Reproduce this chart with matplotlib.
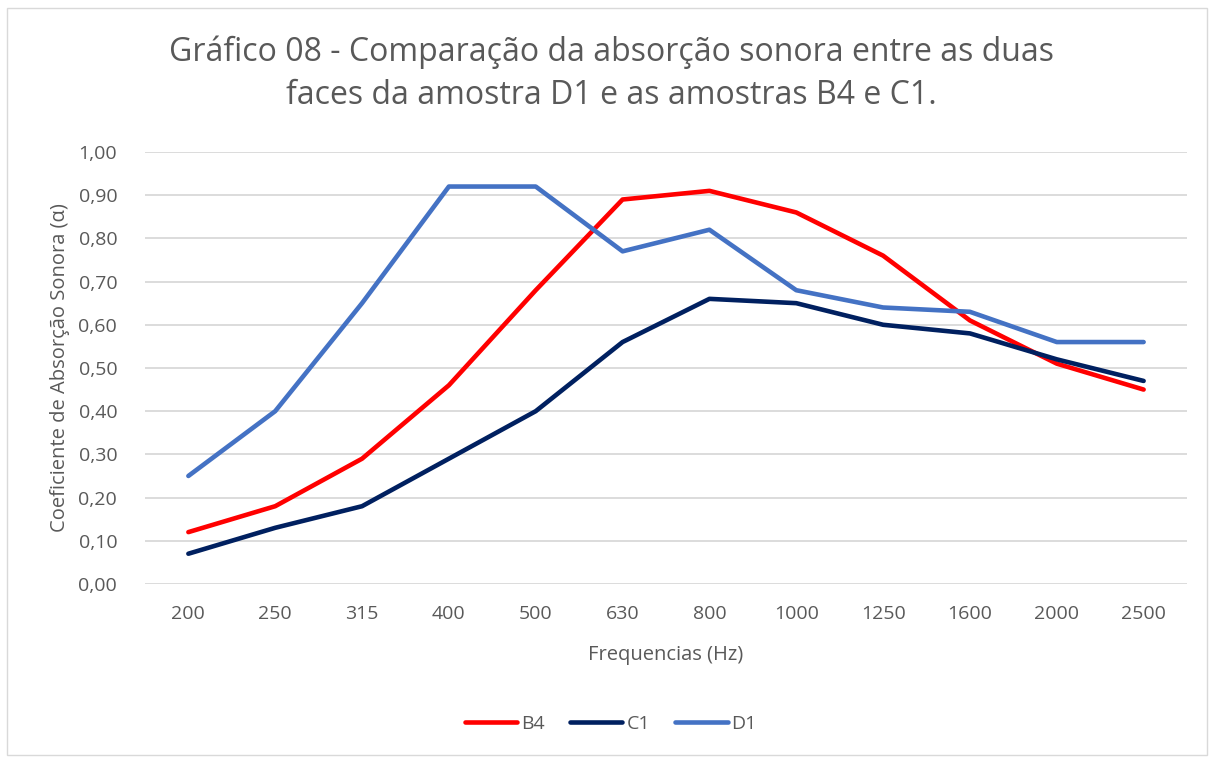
import matplotlib.pyplot as plt
import matplotlib.patches as mpatches

# Frequencies and absorption coefficients
frequencies = ["200", "250", "315", "400", "500", "630", "800", "1000", "1250", "1600", "2000", "2500"]
b4 = [0.12, 0.18, 0.29, 0.46, 0.68, 0.89, 0.91, 0.86, 0.76, 0.61, 0.51, 0.45]
c1 = [0.07, 0.13, 0.18, 0.29, 0.40, 0.56, 0.66, 0.65, 0.60, 0.58, 0.52, 0.47]
d1 = [0.25, 0.40, 0.65, 0.92, 0.92, 0.77, 0.82, 0.68, 0.64, 0.63, 0.56, 0.56]

text_color = "#595959"
plt.rcParams['font.family'] = ['Open Sans', 'DejaVu Sans']

fig = plt.figure(figsize=(12.14, 7.58), dpi=100)
ax = fig.add_axes([0.1194, 0.2296, 0.8584, 0.5699])

x = range(len(frequencies))
ax.plot(x, b4, color="#FF0000", lw=3.3, label="B4", solid_capstyle='round')
ax.plot(x, c1, color="#002060", lw=3.3, label="C1", solid_capstyle='round')
ax.plot(x, d1, color="#4472C4", lw=3.3, label="D1", solid_capstyle='round')

ax.set_xlim(-0.5, len(frequencies) - 0.5)
ax.set_ylim(0, 1.0)
ax.set_yticks([i / 10 for i in range(11)])
ax.set_yticklabels([f"{i / 10:.2f}".replace(".", ",") for i in range(11)])
ax.set_xticks(list(x))
ax.set_xticklabels(frequencies)
ax.tick_params(length=0, labelsize=14, labelcolor=text_color)
ax.tick_params(axis='x', pad=15)
ax.tick_params(axis='y', pad=20)
ax.grid(axis='y', color="#D9D9D9", lw=1.3)
ax.set_axisbelow(True)
for s in ax.spines.values():
    s.set_visible(False)

ax.set_xlabel("Frequencias (Hz)", fontsize=14.5, color=text_color, labelpad=16)
ax.set_ylabel("Coeficiente de Absorção Sonora (α)", fontsize=14.5, color=text_color, labelpad=6)

fig.text(0.504, 0.903, "Gráfico 08 - Comparação da absorção sonora entre as duas\nfaces da amostra D1 e as amostras B4 e C1.",
         ha='center', va='center', fontsize=23, color=text_color, linespacing=1.38)

ax.legend(loc='center', bbox_to_anchor=(0.503, 0.045), bbox_transform=fig.transFigure,
          ncol=3, frameon=False, fontsize=14, labelcolor=text_color,
          handlelength=2.7, handletextpad=0.2, columnspacing=1.3)

# light chart border
fig.patches.append(mpatches.Rectangle((0.006, 0.004), 0.988, 0.986, transform=fig.transFigure,
                                      fill=False, edgecolor="#D9D9D9", lw=1))

fig.savefig("out.png", dpi=100)
